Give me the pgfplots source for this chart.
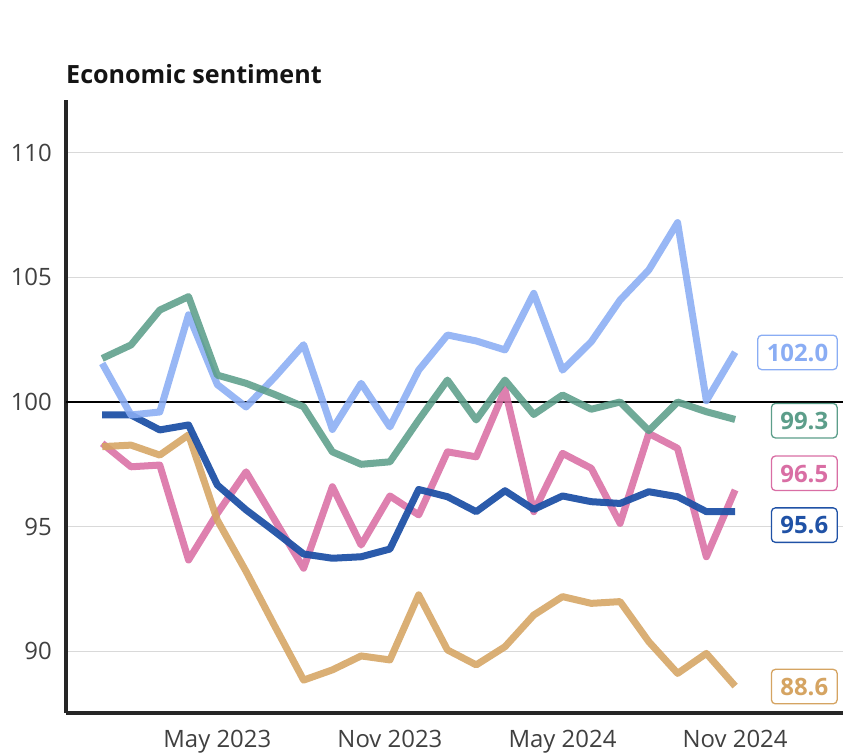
\documentclass[border=0pt]{standalone}
\usepackage{fontspec}
\setmainfont{Open Sans}
\usepackage{pgfplots}
\pgfplotsset{compat=1.18}
\definecolor{lblue}{RGB}{138,173,244}
\definecolor{sgreen}{RGB}{92,158,138}
\definecolor{dblue}{RGB}{32,82,166}
\definecolor{pinkc}{RGB}{217,110,164}
\definecolor{tanc}{RGB}{213,164,98}
\definecolor{tickgray}{RGB}{64,64,64}
\begin{document}
\begin{tikzpicture}[
  lab/.style={anchor=east, draw=#1, text=#1, fill=white, rounded corners=4bp,
    line width=1.3bp, font=\fontsize{24}{28}\selectfont\bfseries,
    inner xsep=9bp, inner ysep=8.5bp, text height=17.5bp, text depth=0pt}]
\begin{axis}[
  at={(66bp,42bp)}, anchor=south west,
  scale only axis, width=777bp, height=613bp,
  xmin=-1.26, xmax=25.75, ymin=87.52, ymax=112.12,
  axis lines=left, axis line style={-, line width=3bp, color=black!85},
  xtick={4,10,16,22}, xticklabels={May 2023,Nov 2023,May 2024,Nov 2024},
  ytick={90,95,100,105,110}, yticklabels={90,95,100,105,110},
  major tick length=0pt,
  ymajorgrids, grid style={color=black!15, line width=1.2bp},
  ticklabel style={font=\fontsize{24}{28}\selectfont, text=tickgray, inner sep=0pt},
  yticklabel style={anchor=east, xshift=-14bp},
  xticklabel style={anchor=north, yshift=-17bp},
  clip=false,
  every axis plot/.append style={line width=7bp, line join=round, line cap=butt, opacity=0.88, no markers},
]
\addplot[black, line width=1.8bp, opacity=1] coordinates {(-1.26,100) (25.75,100)};
% Pink
\addplot[pinkc] coordinates {
(0,98.34) (1,97.4) (2,97.47) (3,93.66) (4,95.53) (5,97.2) (6,95.26) (7,93.33)
(8,96.6) (9,94.26) (10,96.23) (11,95.47) (12,98.0) (13,97.8) (14,100.5) (15,95.6)
(16,97.94) (17,97.34) (18,95.13) (19,98.74) (20,98.14) (21,93.79) (22,96.47)};
% Tan
\addplot[tanc] coordinates {
(0,98.21) (1,98.27) (2,97.87) (3,98.68) (4,95.26) (5,93.2) (6,91.0) (7,88.84)
(8,89.25) (9,89.81) (10,89.65) (11,92.26) (12,90.05) (13,89.45) (14,90.18) (15,91.45)
(16,92.19) (17,91.92) (18,91.99) (19,90.38) (20,89.11) (21,89.91) (22,88.6)};
% Dark blue
\addplot[dblue, opacity=0.95] coordinates {
(0,99.48) (1,99.48) (2,98.88) (3,99.08) (4,96.67) (5,95.67) (6,94.8) (7,93.9)
(8,93.73) (9,93.79) (10,94.1) (11,96.49) (12,96.2) (13,95.6) (14,96.44) (15,95.69)
(16,96.23) (17,96.0) (18,95.93) (19,96.4) (20,96.2) (21,95.6) (22,95.6)};
% Light blue
\addplot[lblue] coordinates {
(0,101.55) (1,99.48) (2,99.6) (3,103.5) (4,100.7) (5,99.8) (6,101.0) (7,102.3)
(8,98.9) (9,100.75) (10,99.0) (11,101.28) (12,102.69) (13,102.45) (14,102.09) (15,104.36)
(16,101.28) (17,102.42) (18,104.09) (19,105.3) (20,107.2) (21,100.05) (22,102.0)};
% Green
\addplot[sgreen] coordinates {
(0,101.75) (1,102.29) (2,103.69) (3,104.23) (4,101.08) (5,100.75) (6,100.3) (7,99.81)
(8,98.0) (9,97.5) (10,97.6) (11,99.28) (12,100.88) (13,99.28) (14,100.88) (15,99.5)
(16,100.28) (17,99.71) (18,100.0) (19,98.85) (20,100.0) (21,99.61) (22,99.3)};
\node[lab=lblue] at (axis cs:25.57,101.99) {102.0};
\node[lab=sgreen] at (axis cs:25.57,99.25) {99.3};
\node[lab=pinkc] at (axis cs:25.57,97.14) {96.5};
\node[lab=dblue] at (axis cs:25.57,95.06) {95.6};
\node[lab=tanc] at (axis cs:25.57,88.58) {88.6};
\end{axis}
\node[anchor=west, inner sep=0pt, text=black!92, font=\fontsize{25.2}{29}\selectfont\bfseries] at (66bp,681bp) {Economic sentiment};
\pgfresetboundingbox
\path (0,0) rectangle (843bp,755bp);
\end{tikzpicture}
\end{document}
